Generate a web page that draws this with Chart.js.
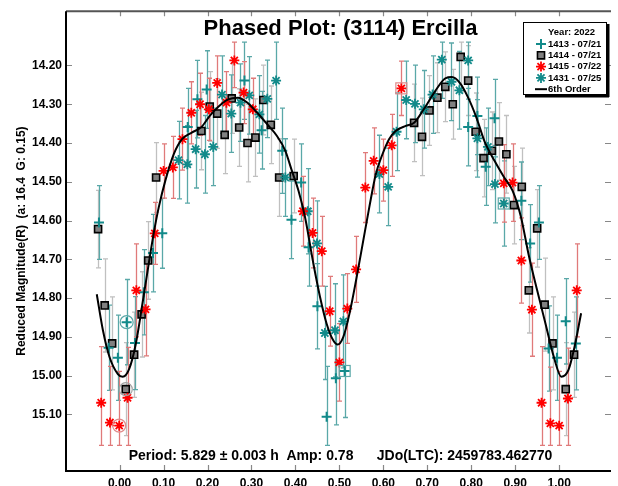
<!DOCTYPE html>
<html>
<head>
<meta charset="utf-8">
<script src="https://cdn.jsdelivr.net/npm/chart.js@4.4.1/dist/chart.umd.min.js"></script>
<style>
  html, body { margin: 0; padding: 0; background: #fff; }
</style>
</head>
<body>
<canvas id="graphique" width="618" height="486"></canvas>
<script>
// ---- donnees ----
const phaseTicks = [0, 0.1, 0.2, 0.3, 0.4, 0.5, 0.6, 0.7, 0.8, 0.9, 1.0];
const magTicks = [14.2, 14.3, 14.4, 14.5, 14.6, 14.7, 14.8, 14.9, 15.0, 15.1];

// 1413 - 07/21 (croix)
const phase1413 = [-0.047, -0.025, -0.004, 0.016, 0.035, 0.055, 0.076, 0.097, 0.155, 0.177, 0.198, 0.284, 0.323, 0.370, 0.391, 0.413, 0.430, 0.450, 0.471, 0.492, 0.512, 0.793, 0.814, 0.833, 0.853, 0.914, 0.934, 0.954, 0.976, 0.995, 1.015, 1.038];
const mag1413 = [14.605, 14.928, 14.954, 14.862, 14.916, 14.785, 14.684, 14.633, 14.359, 14.287, 14.262, 14.239, 14.367, 14.420, 14.598, 14.502, 14.669, 14.821, 15.106, 15.007, 14.988, 14.359, 14.330, 14.461, 14.336, 14.549, 14.659, 14.605, 14.930, 14.954, 14.860, 14.917];
const err1413 = [0.095, 0.11, 0.11, 0.11, 0.12, 0.11, 0.10, 0.09, 0.10, 0.10, 0.10, 0.10, 0.10, 0.11, 0.10, 0.10, 0.10, 0.11, 0.13, 0.12, 0.12, 0.10, 0.10, 0.10, 0.10, 0.10, 0.10, 0.095, 0.11, 0.11, 0.11, 0.12];

// 1414 - 07/21 (carres)
const phase1414 = [-0.049, -0.034, -0.017, 0.014, 0.033, 0.050, 0.065, 0.083, 0.186, 0.205, 0.222, 0.239, 0.255, 0.272, 0.291, 0.309, 0.327, 0.344, 0.363, 0.396, 0.670, 0.688, 0.705, 0.723, 0.741, 0.758, 0.776, 0.793, 0.810, 0.828, 0.847, 0.863, 0.880, 0.897, 0.915, 0.931, 0.950, 0.967, 0.985, 1.015, 1.034];
const mag1414 = [14.622, 14.819, 14.917, 15.035, 14.946, 14.842, 14.703, 14.489, 14.369, 14.306, 14.324, 14.379, 14.285, 14.360, 14.400, 14.386, 14.289, 14.353, 14.489, 14.485, 14.348, 14.384, 14.316, 14.283, 14.255, 14.300, 14.178, 14.239, 14.371, 14.439, 14.420, 14.396, 14.429, 14.560, 14.513, 14.780, 14.620, 14.817, 14.917, 15.035, 14.946];
const err1414 = [0.10, 0.12, 0.12, 0.12, 0.11, 0.11, 0.10, 0.09, 0.10, 0.09, 0.09, 0.10, 0.09, 0.10, 0.10, 0.10, 0.09, 0.10, 0.10, 0.095, 0.10, 0.10, 0.09, 0.09, 0.09, 0.09, 0.09, 0.09, 0.10, 0.10, 0.10, 0.10, 0.10, 0.10, 0.10, 0.11, 0.10, 0.12, 0.12, 0.12, 0.11];

// 1415 - 07/22 (etoiles rouges)
const phase1415 = [-0.042, -0.022, -0.001, 0.018, 0.038, 0.059, 0.080, 0.100, 0.121, 0.143, 0.163, 0.183, 0.203, 0.222, 0.243, 0.261, 0.282, 0.303, 0.417, 0.439, 0.460, 0.478, 0.500, 0.518, 0.538, 0.559, 0.578, 0.600, 0.619, 0.641, 0.874, 0.894, 0.914, 0.938, 0.960, 0.980, 1.000, 1.020, 1.040];
const mag1415 = [15.070, 15.121, 15.129, 15.057, 14.780, 14.829, 14.633, 14.472, 14.463, 14.390, 14.322, 14.300, 14.313, 14.245, 14.296, 14.187, 14.270, 14.313, 14.576, 14.632, 14.679, 14.834, 14.966, 14.827, 14.726, 14.515, 14.446, 14.470, 14.406, 14.259, 14.504, 14.502, 14.703, 14.830, 15.070, 15.123, 15.129, 15.059, 14.780];
const err1415 = [0.145, 0.145, 0.14, 0.13, 0.12, 0.12, 0.08, 0.07, 0.08, 0.08, 0.08, 0.08, 0.08, 0.07, 0.08, 0.07, 0.08, 0.08, 0.09, 0.09, 0.09, 0.09, 0.10, 0.09, 0.085, 0.09, 0.085, 0.08, 0.08, 0.07, 0.10, 0.10, 0.11, 0.12, 0.145, 0.145, 0.14, 0.13, 0.12];

// 1431 - 07/25 (etoiles vertes)
const phase1431 = [0.134, 0.154, 0.173, 0.194, 0.213, 0.233, 0.254, 0.275, 0.295, 0.318, 0.336, 0.356, 0.377, 0.428, 0.449, 0.467, 0.490, 0.509, 0.591, 0.611, 0.630, 0.652, 0.672, 0.692, 0.712, 0.733, 0.755, 0.773, 0.793, 0.814, 0.838, 0.854, 0.874];
const mag1431 = [14.444, 14.455, 14.416, 14.429, 14.410, 14.275, 14.324, 14.296, 14.277, 14.326, 14.286, 14.239, 14.489, 14.576, 14.659, 14.890, 14.883, 14.860, 14.480, 14.513, 14.371, 14.289, 14.299, 14.313, 14.275, 14.185, 14.242, 14.264, 14.187, 14.388, 14.410, 14.506, 14.556];
const err1431 = [0.10, 0.10, 0.10, 0.10, 0.10, 0.10, 0.10, 0.10, 0.10, 0.10, 0.10, 0.10, 0.10, 0.11, 0.11, 0.12, 0.12, 0.12, 0.10, 0.10, 0.10, 0.10, 0.10, 0.10, 0.10, 0.10, 0.10, 0.10, 0.10, 0.10, 0.10, 0.10, 0.11];

// courbe de Fourier (6th order)
const fitPhase = [-0.052, -0.038, -0.023, -0.004, 0.007, 0.022, 0.037, 0.052, 0.065, 0.078, 0.089, 0.104, 0.123, 0.142, 0.164, 0.186, 0.205, 0.224, 0.246, 0.269, 0.291, 0.313, 0.336, 0.358, 0.377, 0.392, 0.407, 0.422, 0.441, 0.456, 0.471, 0.486, 0.496, 0.509, 0.523, 0.538, 0.553, 0.568, 0.583, 0.598, 0.613, 0.628, 0.651, 0.670, 0.692, 0.718, 0.741, 0.756, 0.774, 0.793, 0.812, 0.830, 0.853, 0.875, 0.894, 0.913, 0.931, 0.950, 0.969, 0.988, 1.005, 1.021, 1.035, 1.050];
const fitMag = [14.790, 14.883, 14.952, 14.996, 15.003, 14.982, 14.917, 14.814, 14.720, 14.630, 14.566, 14.497, 14.429, 14.390, 14.373, 14.359, 14.330, 14.307, 14.288, 14.283, 14.296, 14.322, 14.352, 14.382, 14.420, 14.472, 14.523, 14.592, 14.712, 14.797, 14.866, 14.909, 14.920, 14.900, 14.840, 14.754, 14.660, 14.566, 14.480, 14.429, 14.390, 14.369, 14.356, 14.348, 14.313, 14.266, 14.233, 14.230, 14.245, 14.283, 14.335, 14.395, 14.446, 14.489, 14.523, 14.590, 14.690, 14.780, 14.866, 14.952, 15.003, 14.986, 14.926, 14.839];

// points entoures (index dans chaque serie)
const cercle1413 = [3], boite1413 = [20];
const cercle1414 = [3];
const cercle1415 = [2], boite1415 = [29];
const boite1431 = [32];

const errClip = [14.14, 15.18];

const police = "'Liberation Sans', Arial, sans-serif";
const teal = "#128a8a";

function points(px, py) {
  return px.map((v, i) => ({ x: v, y: py[i] }));
}

const datasets = [
  {
    label: "6th Order", type: "line", data: points(fitPhase, fitMag),
    borderColor: "#000", borderWidth: 2, pointRadius: 0,
    cubicInterpolationMode: "monotone", fill: false
  },
  {
    label: "1415 - 07/22", data: points(phase1415, mag1415), errs: err1415, errColor: "#e07a7a",
    pointStyle: "star", pointRadius: 5, borderWidth: 1.8, borderColor: "#ff0000", backgroundColor: "#ff0000",
    circles: cercle1415, boxes: boite1415, ringColor: "#e08a8a"
  },
  {
    label: "1431 - 07/25", data: points(phase1431, mag1431), errs: err1431, errColor: "#5aa8a8",
    pointStyle: "star", pointRadius: 5, borderWidth: 1.8, borderColor: teal, backgroundColor: teal,
    circles: [], boxes: boite1431, ringColor: "#5aa8a8"
  },
  {
    label: "1413 - 07/21", data: points(phase1413, mag1413), errs: err1413, errColor: "#5aa8a8",
    pointStyle: "cross", pointRadius: 5, borderWidth: 2, borderColor: teal, backgroundColor: teal,
    circles: cercle1413, boxes: boite1413, ringColor: "#5aa8a8"
  },
  {
    label: "1414 - 07/21", data: points(phase1414, mag1414), errs: err1414, errColor: "#c0c0c0",
    pointStyle: "rect", pointRadius: 5, borderWidth: 1.6, borderColor: "#000", backgroundColor: "#808080",
    circles: cercle1414, boxes: [], ringColor: "#a0a0a0"
  }
];

// barres d'erreur sous les marqueurs
const errorBars = {
  id: "errorBars",
  beforeDatasetsDraw(chart) {
    const ctx = chart.ctx;
    const sx = chart.scales.x, sy = chart.scales.y;
    ctx.save();
    ctx.beginPath();
    ctx.rect(chart.chartArea.left, chart.chartArea.top, chart.chartArea.right - chart.chartArea.left, chart.chartArea.bottom - chart.chartArea.top);
    ctx.clip();
    for (let d = datasets.length - 1; d >= 0; d--) {
      const ds = chart.data.datasets[d];
      if (!ds.errs) continue;
      ctx.strokeStyle = ds.errColor;
      ctx.lineWidth = 1.3;
      ds.data.forEach((p, j) => {
        const px = Math.round(sx.getPixelForValue(p.x)) + 0.5;
        const top = sy.getPixelForValue(Math.max(p.y - ds.errs[j], errClip[0]));
        const bot = sy.getPixelForValue(Math.min(p.y + ds.errs[j], errClip[1]));
        ctx.beginPath();
        ctx.moveTo(px, top); ctx.lineTo(px, bot);
        ctx.moveTo(px - 2.5, top); ctx.lineTo(px + 2.5, top);
        ctx.moveTo(px - 2.5, bot); ctx.lineTo(px + 2.5, bot);
        ctx.stroke();
      });
    }
    ctx.restore();
  }
};

// cadre, graduations, titres et legende
const decor = {
  id: "decor",
  afterDraw(chart) {
    const ctx = chart.ctx;
    const a = chart.chartArea;
    const sx = chart.scales.x, sy = chart.scales.y;
    ctx.save();

    // cercles et boites autour de certains points
    chart.data.datasets.forEach(ds => {
      if (!ds.errs) return;
      ctx.strokeStyle = ds.ringColor;
      ctx.lineWidth = 1.2;
      ds.circles.forEach(i => {
        const p = ds.data[i];
        ctx.beginPath();
        ctx.arc(sx.getPixelForValue(p.x), sy.getPixelForValue(p.y), 6.5, 0, Math.PI * 2);
        ctx.stroke();
      });
      ds.boxes.forEach(i => {
        const p = ds.data[i];
        ctx.strokeRect(sx.getPixelForValue(p.x) - 5.5, sy.getPixelForValue(p.y) - 5.5, 11, 11);
      });
    });

    // graduations vers l'interieur
    ctx.strokeStyle = "#888";
    ctx.lineWidth = 1.2;
    ctx.beginPath();
    phaseTicks.forEach(v => {
      const px = Math.round(sx.getPixelForValue(v)) + 0.5;
      ctx.moveTo(px, a.bottom); ctx.lineTo(px, a.bottom - 6);
      ctx.moveTo(px, a.top); ctx.lineTo(px, a.top + 5);
    });
    magTicks.forEach(v => {
      const py = Math.round(sy.getPixelForValue(v)) + 0.5;
      ctx.moveTo(a.left, py); ctx.lineTo(a.left + 6, py);
      ctx.moveTo(a.right, py); ctx.lineTo(a.right - 6, py);
    });
    ctx.stroke();

    // axes
    ctx.strokeStyle = "#555";
    ctx.lineWidth = 2;
    ctx.beginPath();
    ctx.moveTo(a.left, a.top); ctx.lineTo(a.right, a.top);
    ctx.stroke();
    ctx.strokeStyle = "#000";
    ctx.beginPath();
    ctx.moveTo(a.left, a.top); ctx.lineTo(a.left, a.bottom); ctx.lineTo(a.right, a.bottom);
    ctx.stroke();

    // titre et texte du bas
    const cx = (a.left + a.right) / 2 + 2;
    ctx.fillStyle = "#000";
    ctx.textAlign = "center";
    ctx.textBaseline = "middle";
    ctx.font = "bold 22px " + police;
    ctx.fillText("Phased Plot: (3114) Ercilla", cx, 29);
    ctx.font = "bold 14px " + police;
    ctx.fillText("Period: 5.829 \u00b1 0.003 h  Amp: 0.78      JDo(LTC): 2459783.462770", cx, 456);

    // legende
    const lx = 523, ly = 22, lw = 84, lh = 73;
    ctx.fillStyle = "#000";
    ctx.fillRect(lx + 2, ly + lh, lw, 2.5);
    ctx.fillRect(lx + lw, ly + 2, 2.5, lh);
    ctx.fillStyle = "#fff";
    ctx.fillRect(lx, ly, lw, lh);
    ctx.strokeStyle = "#000";
    ctx.lineWidth = 1;
    ctx.strokeRect(lx + 0.5, ly + 0.5, lw - 1, lh - 1);

    ctx.font = "bold 9.5px " + police;
    ctx.textAlign = "left";
    ctx.fillStyle = "#000";
    ctx.fillText("Year: 2022", 548, 32);
    const ordre = [3, 4, 1, 2];
    ordre.forEach((d, k) => {
      const ds = chart.data.datasets[d];
      const yy = 44 + k * 11.3;
      ctx.strokeStyle = ds.borderColor;
      ctx.fillStyle = ds.backgroundColor;
      ctx.lineWidth = ds.borderWidth;
      Chart.helpers.drawPoint(ctx, { pointStyle: ds.pointStyle, radius: ds.pointRadius, borderWidth: ds.borderWidth, rotation: 0 }, 541, yy);
      ctx.fillStyle = "#000";
      ctx.fillText(ds.label, 548, yy);
    });
    const yl = 44 + 4 * 11.3;
    ctx.strokeStyle = "#000";
    ctx.lineWidth = 2;
    ctx.beginPath();
    ctx.moveTo(535, yl); ctx.lineTo(547, yl);
    ctx.stroke();
    ctx.fillText("6th Order", 548, yl);

    ctx.restore();
  }
};

new Chart(document.querySelector("#graphique"), {
  type: "scatter",
  data: { datasets: datasets },
  options: {
    responsive: false,
    animation: false,
    devicePixelRatio: 1,
    layout: { padding: { top: 10, right: 0, left: 0, bottom: 0 } },
    plugins: { legend: { display: false }, tooltip: { enabled: false } },
    scales: {
      x: {
        type: "linear",
        min: -0.122,
        max: 1.118,
        afterBuildTicks: (s) => { s.ticks = phaseTicks.map(v => ({ value: v })); },
        afterFit: (s) => { s.height = 15; },
        grid: { display: false, drawTicks: false },
        border: { display: false },
        ticks: {
          autoSkip: false, maxRotation: 0, padding: 5, color: "#000",
          font: { family: police, size: 12, weight: "bold" },
          callback: (v) => v.toFixed(2)
        }
      },
      y: {
        type: "linear",
        reverse: true,
        min: 14.06,
        max: 15.246,
        afterBuildTicks: (s) => { s.ticks = magTicks.map(v => ({ value: v })); },
        afterFit: (s) => { s.width = 66; },
        grid: { display: false, drawTicks: false },
        border: { display: false },
        ticks: {
          autoSkip: false, padding: 4, color: "#000",
          font: { family: police, size: 12, weight: "bold" },
          callback: (v) => v.toFixed(2)
        },
        title: {
          display: true,
          text: "Reduced Magnitude(R)  (a: 16.4  G: 0.15)",
          color: "#000",
          font: { family: police, size: 12, weight: "bold" },
          padding: { top: 14, bottom: 0 }
        }
      }
    }
  },
  plugins: [errorBars, decor]
});
</script>
</body>
</html>
